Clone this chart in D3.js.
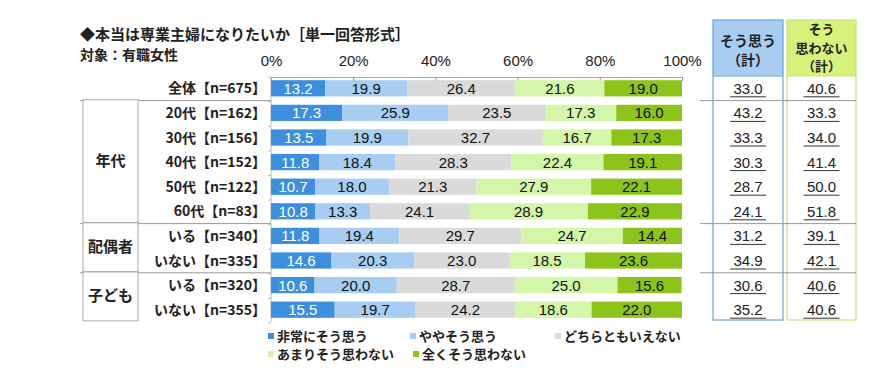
<!DOCTYPE html>
<html>
<head>
<meta charset="utf-8">
<script src="https://cdn.jsdelivr.net/npm/d3@7"></script>
<style>
  body { margin: 0; background: #fff; }
  text { font-family: "Noto Sans CJK JP", "Liberation Sans", sans-serif; }
  .num { font-family: "Liberation Sans", Arial, sans-serif; }
</style>
</head>
<body>
<div id="chart"></div>
<script>
const WIDTH = 870;
const HEIGHT = 370;

const rowLabels = ['全体【n=675】', '20代【n=162】', '30代【n=156】', '40代【n=152】', '50代【n=122】',
  '60代【n=83】', 'いる【n=340】', 'いない【n=335】', 'いる【n=320】', 'いない【n=355】'];
const seriesNames = ['非常にそう思う', 'ややそう思う', 'どちらともいえない', 'あまりそう思わない', '全くそう思わない'];
const colors = ['#3d8fdd', '#a7cdf3', '#dadada', '#d3f6a9', '#8cc41c'];

const veryYes = [13.2, 17.3, 13.5, 11.8, 10.7, 10.8, 11.8, 14.6, 10.6, 15.5];
const someYes = [19.9, 25.9, 19.9, 18.4, 18.0, 13.3, 19.4, 20.3, 20.0, 19.7];
const neither = [26.4, 23.5, 32.7, 28.3, 21.3, 24.1, 29.7, 23.0, 28.7, 24.2];
const someNo = [21.6, 17.3, 16.7, 22.4, 27.9, 28.9, 24.7, 18.5, 25.0, 18.6];
const veryNo = [19.0, 16.0, 17.3, 19.1, 22.1, 22.9, 14.4, 23.6, 15.6, 22.0];

const yesTotal = [33.0, 43.2, 33.3, 30.3, 28.7, 24.1, 31.2, 34.9, 30.6, 35.2];
const noTotal = [40.6, 33.3, 34.0, 41.4, 50.0, 51.8, 39.1, 42.1, 40.6, 40.6];

const xTicks = [0, 20, 40, 60, 80, 100];
const groups = [
  { name: '年代', from: 1, to: 5 },
  { name: '配偶者', from: 6, to: 7 },
  { name: '子ども', from: 8, to: 9 }
];
const separators = [0, 5, 7];

const series = [veryYes, someYes, neither, someNo, veryNo];

const svg = d3.select('#chart').append('svg')
  .attr('width', WIDTH)
  .attr('height', HEIGHT);

const x = d3.scaleLinear().domain([0, 100]).range([271, 682]);
const y = d3.scaleBand().domain(d3.range(rowLabels.length)).range([76, 322]).paddingInner(0.34).paddingOuter(0.17);

// title
svg.append('text').attr('x', 80).attr('y', 40)
  .attr('font-size', 15).attr('font-weight', 'bold').attr('fill', '#222')
  .text('◆本当は専業主婦になりたいか［単一回答形式］');
svg.append('text').attr('x', 80).attr('y', 60)
  .attr('font-size', 14).attr('font-weight', 'bold').attr('fill', '#222')
  .text('対象：有職女性');

// top axis
const axisTop = svg.append('g').attr('transform', 'translate(0,77)')
  .call(d3.axisTop(x).tickValues(xTicks).tickSize(-4).tickFormat(d => d + '%'));
axisTop.select('.domain').attr('stroke', '#aaa');
axisTop.selectAll('.tick line').attr('stroke', '#999');
axisTop.selectAll('.tick text')
  .attr('class', 'num').attr('y', -11)
  .attr('font-size', 15).attr('fill', '#222');

// left axis line with small ticks
svg.append('line').attr('x1', x(0)).attr('x2', x(0)).attr('y1', 77).attr('y2', 322).attr('stroke', '#bbb');
svg.append('g').selectAll('line').data(d3.range(rowLabels.length + 1)).join('line')
  .attr('x1', x(0) - 3).attr('x2', x(0))
  .attr('y1', i => 77 + i * y.step()).attr('y2', i => 77 + i * y.step())
  .attr('stroke', '#bbb');

// right total columns
const col1 = { x0: 713, x1: 783, fill: '#a9cdf0', stroke: '#6aa6dc' };
const col2 = { x0: 787, x1: 856, fill: '#d8f07c', stroke: '#c4e47e' };
[col1, col2].forEach(c => {
  svg.append('rect').attr('x', c.x0).attr('y', 20).attr('width', c.x1 - c.x0).attr('height', 56)
    .attr('fill', c.fill);
  svg.append('rect').attr('x', c.x0).attr('y', 20).attr('width', c.x1 - c.x0).attr('height', 300)
    .attr('fill', 'none').attr('stroke', c.stroke).attr('stroke-width', 1.2);
  svg.append('line').attr('x1', c.x0).attr('x2', c.x1).attr('y1', 76).attr('y2', 76)
    .attr('stroke', c.stroke);
});
const head1 = ['そう思う', '（計）'];
const head2 = ['そう', '思わない', '（計）'];
svg.append('g').selectAll('text').data(head1).join('text')
  .attr('x', (col1.x0 + col1.x1) / 2).attr('y', (d, i) => 46 + i * 19)
  .attr('text-anchor', 'middle').attr('font-size', 14).attr('font-weight', 'bold').attr('fill', '#222')
  .text(d => d);
svg.append('g').selectAll('text').data(head2).join('text')
  .attr('x', (col2.x0 + col2.x1) / 2).attr('y', (d, i) => 34 + i * 18.5)
  .attr('text-anchor', 'middle').attr('font-size', 13).attr('font-weight', 'bold').attr('fill', '#222')
  .text(d => d);

// separators
separators.forEach(i => {
  const yy = y(i) + y.bandwidth() + (y.step() - y.bandwidth()) / 2;
  svg.append('line').attr('x1', 80).attr('x2', x(0)).attr('y1', yy).attr('y2', yy).attr('stroke', '#999');
  svg.append('line').attr('x1', 700).attr('x2', 856).attr('y1', yy).attr('y2', yy).attr('stroke', '#999');
});

// group boxes
groups.forEach(g => {
  const top = y(g.from) - 5;
  const bottom = y(g.to) + y.bandwidth() + 3;
  svg.append('rect').attr('x', 83).attr('y', top).attr('width', 55).attr('height', bottom - top)
    .attr('fill', '#fff').attr('stroke', '#aaa');
  svg.append('text').attr('x', 110.5).attr('y', (top + bottom) / 2 + 5)
    .attr('text-anchor', 'middle').attr('font-size', 15).attr('font-weight', 'bold').attr('fill', '#222')
    .text(g.name);
});

// row labels
svg.append('g').selectAll('text').data(rowLabels).join('text')
  .attr('x', 266).attr('y', (d, i) => y(i) + y.bandwidth() / 2 + 5)
  .attr('text-anchor', 'end').attr('font-size', 14).attr('font-weight', 'bold').attr('fill', '#222')
  .text(d => d);

// stacked bars
const rows = rowLabels.map((label, i) => {
  let acc = 0;
  return series.map((s, k) => {
    const seg = { row: i, k, v: s[i], x0: acc, x1: acc + s[i] };
    acc += s[i];
    return seg;
  });
}).flat();

svg.append('g').selectAll('rect').data(rows).join('rect')
  .attr('x', d => x(d.x0)).attr('y', d => y(d.row))
  .attr('width', d => Math.min(x(d.x1), x(100)) - x(d.x0)).attr('height', y.bandwidth())
  .attr('fill', d => colors[d.k]);

svg.append('g').selectAll('text').data(rows).join('text')
  .attr('class', 'num')
  .attr('x', d => x((d.x0 + Math.min(d.x1, 100)) / 2)).attr('y', d => y(d.row) + y.bandwidth() / 2 + 5.5)
  .attr('text-anchor', 'middle').attr('font-size', 15)
  .attr('fill', d => d.k === 0 ? '#fff' : '#111')
  .text(d => d.v.toFixed(1));

// totals
[[yesTotal, col1], [noTotal, col2]].forEach(([vals, c]) => {
  const cx = (c.x0 + c.x1) / 2;
  const g = svg.append('g');
  g.selectAll('text').data(vals).join('text')
    .attr('class', 'num')
    .attr('x', cx).attr('y', (d, i) => y(i) + y.bandwidth() / 2 + 5.5)
    .attr('text-anchor', 'middle').attr('font-size', 15).attr('fill', '#222')
    .text(d => d.toFixed(1));
  g.selectAll('line').data(vals).join('line')
    .attr('x1', cx - 18).attr('x2', cx + 18)
    .attr('y1', (d, i) => y(i) + y.bandwidth() / 2 + 8.5)
    .attr('y2', (d, i) => y(i) + y.bandwidth() / 2 + 8.5)
    .attr('stroke', '#333').attr('stroke-width', 1);
});

// legend
const legendPos = [[268, 336], [410, 336], [555, 336], [268, 354], [413, 354]];
const legend = svg.append('g').selectAll('g').data(seriesNames).join('g')
  .attr('transform', (d, i) => `translate(${legendPos[i][0]},${legendPos[i][1]})`);
legend.append('rect').attr('x', 0).attr('y', -3).attr('width', 6).attr('height', 6)
  .attr('fill', (d, i) => colors[i]);
legend.append('text').attr('x', 9).attr('y', 5)
  .attr('font-size', 13).attr('font-weight', 'bold').attr('fill', '#222')
  .text(d => d);
</script>
</body>
</html>
